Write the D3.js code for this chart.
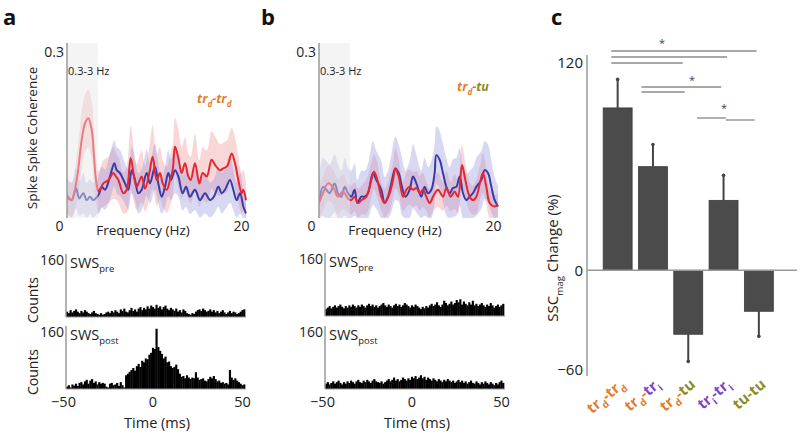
<!DOCTYPE html>
<html><head><meta charset="utf-8">
<script src="https://cdn.jsdelivr.net/npm/d3@7"></script>
<style>body{margin:0;background:#fff}svg{display:block;font-family:"Open Sans",sans-serif}</style>
</head><body><svg id="c" width="800" height="434"></svg>
<script>
// ---------------- DATA ----------------
// coherence series: [frequency Hz, coherence, sem]
const cohRedA = [[0,.040,.03],[0.5,.031,.03],[1.08,.066,.04],[1.64,.135,.05],[2.01,.164,.05],[2.38,.173,.05],[2.76,.153,.05],[3.02,.106,.05],[3.24,.066,.04],[3.5,.046,.035],
 [3.69,.049,.035],[4.06,.060,.04],[4.62,.066,.04],[5.18,.078,.045],[5.47,.072,.04],[5.74,.066,.04],[6.29,.043,.035],[6.67,.049,.04],[7.11,.104,.055],[7.49,.072,.045],
 [7.78,.054,.04],[8.34,.072,.045],[8.72,.051,.04],[9.2,.078,.045],[9.57,.106,.055],[10.02,.066,.045],[10.39,.078,.045],[10.69,.060,.04],[11.14,.049,.04],[11.51,.066,.045],
 [11.81,.083,.045],[12.07,.124,.05],[12.44,.104,.05],[12.81,.078,.045],[13.18,.095,.045],[13.56,.072,.04],[13.82,.066,.04],[14.3,.095,.05],[14.79,.060,.04],[15.16,.078,.045],
 [15.61,.072,.045],[16.16,.101,.05],[16.54,.092,.05],[17.09,.083,.045],[17.47,.086,.045],[17.9,.090,.045],[18.4,.112,.045],[18.77,.095,.045],[19.14,.066,.04],[19.52,.043,.035],
 [19.7,.049,.035],[20,.031,.03]];
const cohBlueA = [[0,.037,.03],[.52,.031,.03],[1.01,.051,.035],[1.38,.034,.03],[1.82,.043,.035],[2.2,.031,.03],[2.57,.037,.03],[2.94,.031,.03],[3.39,.037,.03],[3.61,.043,.035],
 [3.87,.054,.035],[4.25,.049,.035],[4.8,.072,.04],[5.29,.095,.04],[5.55,.083,.04],[5.92,.078,.04],[6.48,.060,.035],[6.85,.049,.035],[7.23,.083,.04],[7.6,.066,.035],
 [7.97,.043,.035],[8.34,.049,.035],[8.9,.078,.04],[9.27,.060,.035],[9.83,.089,.04],[10.2,.060,.035],[10.58,.037,.03],[10.95,.054,.035],[11.32,.078,.04],[11.62,.066,.035],
 [12.07,.083,.04],[12.44,.072,.035],[12.92,.043,.03],[13.3,.054,.035],[13.74,.037,.03],[14.3,.049,.035],[14.86,.031,.03],[15.42,.043,.035],[15.98,.031,.03],[16.42,.037,.03],
 [16.91,.054,.035],[17.28,.043,.035],[17.65,.049,.035],[18.21,.066,.04],[18.58,.049,.035],[18.96,.031,.03],[19.33,.043,.035],[19.7,.020,.03],[20,.008,.025]];
const cohRedB = [[0,.026,.025],[.45,.043,.03],[1.0,.060,.03],[1.56,.054,.03],[2.12,.037,.03],[2.68,.046,.03],[3.24,.034,.025],[3.61,.031,.025],[3.98,.037,.025],[4.36,.026,.025],
 [4.73,.031,.025],[5.29,.037,.03],[5.85,.066,.03],[6.15,.080,.03],[6.52,.066,.03],[6.96,.037,.025],[7.34,.026,.025],[7.9,.043,.03],[8.27,.066,.03],[8.53,.086,.035],
 [8.9,.072,.03],[9.39,.037,.025],[9.76,.049,.03],[10.13,.054,.03],[10.5,.049,.03],[10.88,.052,.03],[11.25,.043,.03],[11.62,.049,.03],[11.99,.037,.025],[12.37,.026,.025],
 [12.74,.037,.025],[13.3,.049,.03],[13.85,.037,.025],[14.23,.052,.03],[14.71,.037,.025],[15.16,.046,.03],[15.53,.037,.03],[15.98,.092,.035],[16.35,.066,.03],[16.83,.037,.025],
 [17.21,.031,.025],[17.58,.037,.03],[18.06,.066,.03],[18.32,.078,.035],[18.7,.054,.03],[19.07,.026,.025],[19.63,.020,.02],[20,.023,.02]];
const cohBlueB = [[0,.026,.045],[.45,.054,.05],[.82,.049,.05],[1.19,.043,.05],[1.75,.060,.05],[2.12,.043,.05],[2.5,.037,.045],[2.87,.054,.05],[3.24,.043,.045],[3.61,.037,.045],
 [3.98,.049,.045],[4.28,.026,.04],[4.73,.037,.045],[5.1,.037,.045],[5.47,.043,.05],[6.03,.078,.055],[6.41,.066,.05],[6.96,.049,.05],[7.34,.026,.045],[7.71,.037,.045],
 [8.08,.060,.05],[8.53,.086,.055],[8.9,.078,.05],[9.27,.054,.05],[9.65,.037,.045],[10.13,.049,.05],[10.5,.072,.055],[10.88,.060,.05],[11.43,.037,.045],[11.8,.054,.05],
 [12.18,.043,.045],[12.55,.049,.05],[12.92,.078,.05],[13.11,.109,.05],[13.48,.101,.05],[13.85,.078,.05],[14.23,.054,.05],[14.6,.043,.045],[14.97,.052,.05],[15.34,.054,.05],
 [15.72,.072,.05],[16.09,.043,.045],[16.46,.031,.045],[16.83,.037,.045],[17.21,.043,.045],[17.58,.054,.05],[18.14,.066,.05],[18.51,.083,.05],[18.88,.078,.05],[19.26,.054,.045],
 [19.63,.031,.04],[20,.020,.035]];

// cross-correlogram counts, 1 ms bins from -50 to 49 ms
const histBins = d3.range(-50, 50);
const preA = [14,10,18,12,16,20,14,10,16,12, 18,14,10,8,12,16,10,8,6,10, 6,8,12,14,10,16,12,18,14,10,
 20,16,22,14,12,18,24,16,20,14, 22,26,18,24,20,28,22,30,26,22, 32,24,28,20,26,30,22,18,24,20,
 16,22,14,18,12,20,16,10,8,6, 10,8,14,18,20,16,22,18,14,16, 20,14,18,12,16,10,14,18,12,8, 12,16,10,14,12,8,10,14,18,20];
const postA = [6,10,4,12,9,14,8,16,18,12, 20,24,14,22,26,16,20,12,18,14, 16,14,6,4,14,16,10,12,16,8,
 18,10,4,36,40,45,50,55,48,60, 66,58,74,70,80,78,90,95,108,105, 158,110,100,92,80,85,70,72,60,55,
 58,64,52,40,32,34,28,36,30,26, 30,28,44,30,24,26,28,22,20,26, 32,28,34,26,20,22,16,18,14,16, 12,50,30,24,28,22,18,14,10,12];
const preB = [18,22,26,20,24,28,22,26,30,24, 20,26,22,28,24,30,26,22,28,24, 30,26,22,28,32,26,30,24,28,22,
 26,30,34,28,24,30,26,22,28,32, 26,30,24,28,34,30,26,22,28,24, 30,26,22,18,24,20,26,22,28,32,
 26,30,36,28,24,30,40,34,28,32, 38,30,34,42,36,44,30,38,32,28, 36,30,40,28,32,26,30,34,28,24, 30,26,34,28,22,26,30,24,28,32];
const postB = [14,18,12,16,20,14,18,22,16,12, 18,14,20,16,22,18,14,20,24,18, 16,22,18,24,20,16,22,26,20,18,
 16,20,14,18,22,26,20,24,30,22, 26,20,24,30,26,22,28,24,32,28, 34,26,30,36,28,32,24,30,26,22,
 28,24,20,26,22,18,24,20,26,22, 18,22,16,20,24,18,22,16,20,14, 18,22,16,14,20,16,12,18,14,20, 16,12,18,14,10,16,12,18,22,16];

// panel c
const categories = ["tr_d-tr_d","tr_d-tr_i","tr_d-tu","tr_i-tr_i","tu-tu"];
const changeMean = [94, 60, -37, 40.5, -23.7];
const changeSem  = [16.5, 12.8, 15.7, 14.5, 14.5];
const changeTicks = [-60, 0, 120];
const cohTicks = [0.3];
const freqTicks = [0, 20];
const timeTicks = [-50, 0, 50];
const countTicks = [160];
// significance comparisons: [from, to]
const sigPairs = [["tr_d-tr_d","tu-tu"],["tr_d-tr_d","tr_i-tr_i"],["tr_d-tr_d","tr_d-tu"],
 ["tr_d-tr_i","tr_i-tr_i"],["tr_d-tr_i","tr_d-tu"],["tr_d-tu","tr_i-tr_i"],["tr_i-tr_i","tu-tu"]];

// ---------------- STYLE / LAYOUT ----------------
const ORANGE = "#e27d2c", PURPLE = "#7b45c6", OLIVE = "#8d8a1f";
const TXT = "#222", AX = "#9a9a9a";
const svg = d3.select("#c");
svg.append("rect").attr("width",800).attr("height",434).attr("fill","#fff");

function panelLetter(x, y, t){
  svg.append("text").attr("x",x).attr("y",y).attr("font-size",22).attr("font-weight","bold").attr("fill","#111").text(t);
}
panelLetter(3,25,"a"); panelLetter(261,25,"b"); panelLetter(551,25,"c");

function richText(g, parts, size){
  const t = g.append("text").attr("font-size",size);
  let sub=false;
  parts.forEach(p=>{
    const s = t.append("tspan").attr("fill",p.c||TXT).text(p.t);
    if(p.sub && !sub){ s.attr("dy",size*0.3).attr("font-size",size*0.65); sub=true; }
    else if(!p.sub && sub){ s.attr("dy",-size*0.3); sub=false; }
    else if(p.sub){ s.attr("font-size",size*0.65); }
  });
  return t;
}

let clipN=0;
function drawCoh(ox, red, blue, tagParts, tagX, tagY, showYLabel){
  const x = d3.scaleLinear().domain([0,20]).range([ox, ox+179]);
  const y = d3.scaleLinear().domain([0,0.3]).range([218,45]);
  const g = svg.append("g");
  const id = "clip"+(clipN++);
  g.append("clipPath").attr("id",id).append("rect").attr("x",ox).attr("y",40).attr("width",181).attr("height",178);
  const pg = g.append("g").attr("clip-path",`url(#${id})`);
  const area = d3.area().x(d=>x(d[0])).y0(d=>y(Math.max(0,d[1]-d[2]))).y1(d=>y(d[1]+d[2])).curve(d3.curveCatmullRom.alpha(0.5));
  const line = d3.line().x(d=>x(d[0])).y(d=>y(d[1])).curve(d3.curveCatmullRom.alpha(0.5));
  pg.append("path").datum(red).attr("d",area).attr("fill","#f08c8c").attr("fill-opacity",0.35);
  pg.append("path").datum(blue).attr("d",area).attr("fill","#8f8fdc").attr("fill-opacity",0.35);
  pg.append("path").datum(blue).attr("d",line).attr("fill","none").attr("stroke","#3b3ba6").attr("stroke-width",2);
  pg.append("path").datum(red).attr("d",line).attr("fill","none").attr("stroke","#e82630").attr("stroke-width",2);
  // 0.3-3 Hz shading
  g.append("rect").attr("x",x(0)).attr("y",43).attr("width",x(3.45)-x(0)).attr("height",175)
    .attr("fill","#e6e6e6").attr("fill-opacity",0.45);
  g.append("text").attr("x",x(0)+1).attr("y",75).attr("font-size",11).attr("fill",TXT).text("0.3-3 Hz");
  // axes
  const ya = g.append("g").attr("transform",`translate(${ox},0)`).call(d3.axisLeft(y).tickValues(cohTicks).tickSize(0).tickPadding(3).tickSizeOuter(0).tickFormat(d3.format(".1f")));
  ya.select(".domain").attr("stroke",AX).attr("stroke-width",1.5).attr("d",`M0,43V218`);
  ya.selectAll("text").attr("font-size",14).attr("fill",TXT).attr("font-family","Open Sans").attr("transform","translate(0,7)");
  const xa = g.append("g").attr("transform","translate(0,218)").call(d3.axisBottom(x).tickValues(freqTicks).tickSize(0).tickPadding(3));
  xa.select(".domain").remove();
  xa.selectAll("text").attr("font-size",14).attr("fill",TXT).attr("font-family","Open Sans").attr("dx",(d)=>d===0?-8:-5);
  g.append("text").attr("x",ox+76).attr("y",235).attr("text-anchor","middle").attr("font-size",13.5).attr("fill",TXT).text("Frequency (Hz)");
  if(showYLabel){
    g.append("text").attr("transform","translate(37,138) rotate(-90)").attr("text-anchor","middle").attr("font-size",13.5).attr("fill",TXT).text("Spike Spike Coherence");
  }
  const tg = g.append("g").attr("transform",`translate(${tagX},${tagY})`).attr("font-weight","bold").attr("font-style","italic");
  richText(tg, tagParts, 12.5);
}

drawCoh(67, cohRedA, cohBlueA,
  [{t:"tr",c:ORANGE},{t:"d",c:ORANGE,sub:1},{t:"-tr",c:ORANGE},{t:"d",c:ORANGE,sub:1}], 197, 103, true);
drawCoh(319, cohRedB, cohBlueB,
  [{t:"tr",c:ORANGE},{t:"d",c:ORANGE,sub:1},{t:"-tu",c:OLIVE}], 457, 91, false);

function drawHist(ox, base, vals, subTxt, showCounts, showX, tlX){
  const x = d3.scaleLinear().domain([-50,50]).range([ox, ox+179]);
  const y = d3.scaleLinear().domain([0,160]).range([base, base-61]);
  const g = svg.append("g");
  g.selectAll("rect.bar").data(vals).join("rect").attr("class","bar")
    .attr("x",(d,i)=>x(histBins[i])).attr("width",(d,i)=>x(histBins[i]+1)-x(histBins[i])+0.35)
    .attr("y",d=>y(d)).attr("height",d=>base-y(d)).attr("fill","#000");
  g.append("line").attr("x1",ox).attr("x2",ox+180).attr("y1",base).attr("y2",base).attr("stroke",AX).attr("stroke-width",1.2);
  const ya = g.append("g").attr("transform",`translate(${ox},0)`).call(d3.axisLeft(y).tickValues(countTicks).tickSize(0).tickPadding(2));
  ya.select(".domain").attr("stroke",AX).attr("stroke-width",1.5).attr("d",`M0,${base-63}V${base}`);
  ya.selectAll("text").attr("font-size",14).attr("fill",TXT).attr("font-family","Open Sans").attr("transform","translate(0,4)");
  const tg = g.append("g").attr("transform",`translate(${ox+4},${base-49})`);
  richText(tg, [{t:"SWS"},{t:subTxt,sub:1}], 14.5);
  if(showCounts){
    g.append("text").attr("transform",`translate(38,${base-17}) rotate(-90)`).attr("text-anchor","middle").attr("font-size",14).attr("fill",TXT).text("Counts");
  }
  if(showX){
    const xa = g.append("g").attr("transform",`translate(0,${base})`).call(d3.axisBottom(x).tickValues(timeTicks).tickSize(0).tickPadding(8));
    xa.select(".domain").remove();
    xa.selectAll("text").attr("font-size",14.5).attr("fill",TXT).attr("font-family","Open Sans").attr("dx",-3);
    g.append("text").attr("x",tlX).attr("y",base+39).attr("text-anchor","middle").attr("font-size",14.5).attr("fill",TXT).text("Time (ms)");
  }
}
drawHist(66, 317, preA, "pre", true, false);
drawHist(66, 389, postA, "post", true, true, 157);
drawHist(325, 316, preB, "pre", false, false);
drawHist(325, 389, postB, "post", false, true, 417);

// ---------------- panel c ----------------
const xc = d3.scaleBand().domain(categories).range([600, 776.5]).paddingInner(0.18).paddingOuter(0.09);
const yc = d3.scaleLinear().domain([-60,120]).range([374,63]);
const gc = svg.append("g");
gc.append("line").attr("x1",587).attr("x2",587).attr("y1",55).attr("y2",376).attr("stroke",AX).attr("stroke-width",1.5);
const ycAx = gc.append("g").attr("transform","translate(587,0)").call(d3.axisLeft(yc).tickValues(changeTicks).tickSize(0).tickPadding(4));
ycAx.select(".domain").remove();
ycAx.selectAll("text").attr("font-size",15).attr("fill",TXT).attr("font-family","Open Sans").attr("transform",d=>d===-60?"translate(0,-4)":null);
const bw = xc.bandwidth();
categories.forEach((c,i)=>{
  const v = changeMean[i], e = changeSem[i];
  const cx = xc(c)+bw/2;
  const ye = yc(v + Math.sign(v)*e);
  gc.append("line").attr("x1",cx).attr("x2",cx).attr("y1",yc(v)).attr("y2",ye).attr("stroke","#444").attr("stroke-width",2);
  gc.append("circle").attr("cx",cx).attr("cy",ye).attr("r",1.8).attr("fill","#444");
  gc.append("rect").attr("x",xc(c)).attr("width",bw).attr("y",yc(Math.max(0,v))).attr("height",Math.abs(yc(v)-yc(0)))
    .attr("fill","#4b4b4b").attr("stroke","#3a3a3a").attr("stroke-width",0.8);
});
gc.append("line").attr("x1",587).attr("x2",797).attr("y1",yc(0)).attr("y2",yc(0)).attr("stroke",AX).attr("stroke-width",1.5);

// significance lines (layout: y position, start/end offset within band)
const sigLayout = [[51,0.28,0.42],[57,0.28,0.62],[63,0.28,0.31],[87,0.1,0.42],[92,0.1,0.38],[118,0.8,0.58],[120,0.58,0.36]];
sigPairs.forEach((p,i)=>{
  const [yy,a,b] = sigLayout[i];
  gc.append("line").attr("x1",xc(p[0])+a*bw).attr("x2",xc(p[1])+b*bw).attr("y1",yy).attr("y2",yy)
    .attr("stroke","#a8a8a8").attr("stroke-width",1.8);
});
[[662,47],[692,84],[724,112]].forEach(s=>{
  gc.append("text").attr("x",s[0]).attr("y",s[1]).attr("text-anchor","middle").attr("font-size",11).attr("fill","#444").text("*");
});

// y label
const yl = gc.append("g").attr("transform","translate(558,258) rotate(-90)");
const ylt = richText(yl, [{t:"SSC"},{t:"mag",sub:1},{t:" Change (%)"}], 15);
ylt.attr("text-anchor","middle");

// category labels
const catParts = {
  "tr_d-tr_d":[{t:"tr",c:ORANGE},{t:"d",c:ORANGE,sub:1},{t:"-tr",c:ORANGE},{t:"d",c:ORANGE,sub:1}],
  "tr_d-tr_i":[{t:"tr",c:ORANGE},{t:"d",c:ORANGE,sub:1},{t:"-",c:ORANGE},{t:"tr",c:PURPLE},{t:"i",c:PURPLE,sub:1}],
  "tr_d-tu":[{t:"tr",c:ORANGE},{t:"d",c:ORANGE,sub:1},{t:"-",c:ORANGE},{t:"tu",c:OLIVE}],
  "tr_i-tr_i":[{t:"tr",c:PURPLE},{t:"i",c:PURPLE,sub:1},{t:"-tr",c:PURPLE},{t:"i",c:PURPLE,sub:1}],
  "tu-tu":[{t:"tu-tu",c:OLIVE}]
};
categories.forEach(c=>{
  const lg = gc.append("g").attr("transform",`translate(${xc(c)+bw/2+8},386) rotate(-40)`).attr("font-weight","bold");
  richText(lg, catParts[c], 15).attr("text-anchor","end");
});
</script></body></html>
